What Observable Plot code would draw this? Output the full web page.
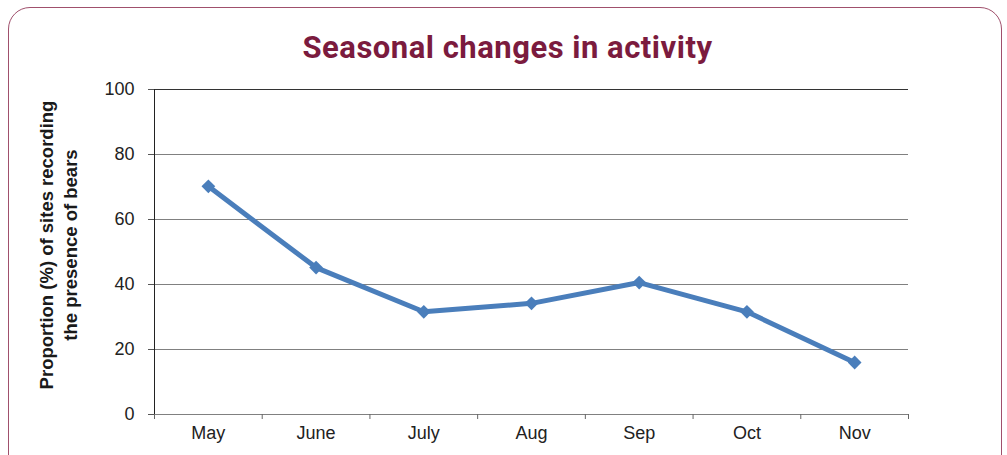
<!DOCTYPE html>
<html>
<head>
<meta charset="utf-8">
<script src="https://cdn.jsdelivr.net/npm/d3@7"></script>
<script src="https://cdn.jsdelivr.net/npm/@observablehq/plot@0.6"></script>
<style>
  html, body { margin: 0; padding: 0; background: #fff; }
  #wrap { position: relative; width: 1007px; height: 455px; overflow: hidden; }
  #frame { position: absolute; left: 8px; top: 7px; width: 994px; height: 470px;
           border: 1.5px solid #a0506c; border-radius: 22px; box-sizing: border-box; }
  #title { position: absolute; left: 4px; width: 1007px; top: 29px; text-align: center;
           font-family: Roboto, "Liberation Sans", sans-serif; font-weight: 700;
           font-size: 31px; color: #7b1b3e; letter-spacing: 0.5px; }
  #chart { position: absolute; left: 0; top: 0; }
</style>
</head>
<body>
<div id="wrap">
  <div id="frame"></div>
  <div id="title">Seasonal changes in activity</div>
  <div id="chart"></div>
</div>
<script>
const months = ["May", "June", "July", "Aug", "Sep", "Oct", "Nov"];
const values = [70.2, 45.2, 31.6, 34.2, 40.6, 31.6, 16.0];
const yTicks = [0, 20, 40, 60, 80, 100];
const yLabel = "Proportion (%) of sites recording\nthe presence of bears";

const data = months.map((m, i) => ({month: m, idx: i + 0.5, value: values[i]}));
const boundaries = d3.range(months.length + 1);
const centers = months.map((m, i) => i + 0.5);

const chart = Plot.plot({
  width: 1007,
  height: 455,
  marginLeft: 154,
  marginRight: 99,
  marginTop: 89,
  marginBottom: 41,
  style: {fontFamily: "'Liberation Sans', Arial, sans-serif", background: "transparent", color: "#222"},
  x: {type: "linear", domain: [0, months.length]},
  y: {domain: [0, 100]},
  marks: [
    Plot.gridY(yTicks.filter(t => t > 0 && t < 100), {stroke: "#808080", strokeOpacity: 1}),
    Plot.ruleY([0], {stroke: "#808080"}),
    Plot.ruleY([100], {stroke: "#333"}),
    Plot.axisY({ticks: yTicks, tickSize: 6, tickPadding: 14, fontSize: 18, label: null, stroke: "#555", tickFormat: d => d}),
    Plot.axisX({ticks: boundaries, tickSize: 5, tickFormat: () => "", label: null, stroke: "#666"}),
    Plot.axisX({ticks: centers, tickSize: 0, tickPadding: 12, fontSize: 18, label: null, tickFormat: v => months[Math.round(v - 0.5)]}),
    Plot.ruleX([0], {stroke: "#222"}),
    Plot.line(data, {x: "idx", y: "value", stroke: "#4a7ebb", strokeWidth: 5}),
    Plot.dot(data, {x: "idx", y: "value", symbol: "diamond2", r: 6.2, fill: "#4a7ebb", stroke: "none"}),
    Plot.text([yLabel], {frameAnchor: "left", textAnchor: "middle", rotate: -90, dx: -97, dy: -7, text: d => d, fontSize: 18.5, fontWeight: "bold", lineHeight: 1.3, fill: "#1a1a1a"})
  ]
});
document.getElementById("chart").appendChild(chart);
</script>
</body>
</html>
